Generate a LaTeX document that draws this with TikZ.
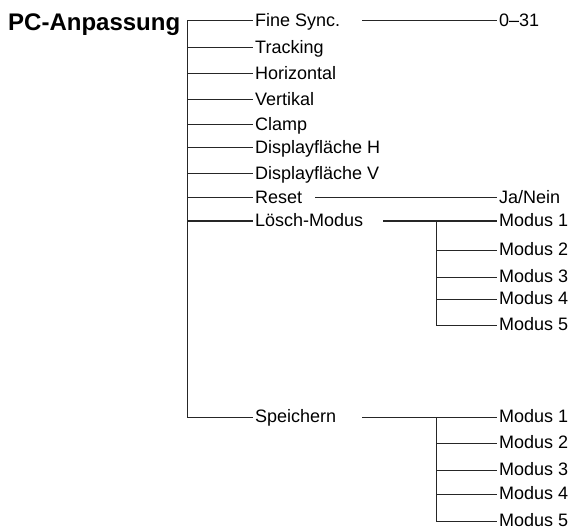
\documentclass[tikz,border=0pt]{standalone}
\usepackage{fontspec}
\setmainfont{Liberation Sans}
\tikzset{
  entry/.style={anchor=west, inner xsep=2pt, inner ysep=0pt, text height=12.9pt, text depth=1.9pt, font=\fontsize{18}{20}\selectfont},
  heading/.style={anchor=base west, inner sep=0pt, font=\bfseries\fontsize{24}{28}\selectfont},
  branch/.style={line width=1pt, black!85},
}
\begin{document}
\begin{tikzpicture}[x=1pt, y=-1pt]
\useasboundingbox (0,0) rectangle (572,529);
\node[heading] (title) at (8,30.5) {PC-Anpassung};
\coordinate (trunk) at (187,21);
% first level
\node[entry] (fine) at (253,21) {Fine Sync.};
\node[entry] (track) at (253,48) {Tracking};
\node[entry] (hor) at (253,74) {Horizontal};
\node[entry] (vert) at (253,100) {Vertikal};
\node[entry] (clamp) at (253,125) {Clamp};
\node[entry] (dispH) at (253,148) {Displayfläche H};
\node[entry] (dispV) at (253,174) {Displayfläche V};
\node[entry] (reset) at (253,198) {Reset};
\node[entry] (clear) at (253,221) {Lösch-Modus};
\node[entry] (save) at (253,417) {Speichern};
% second level
\node[entry] (sync) at (497,21) {0–31};
\node[entry] (yesno) at (497,198) {Ja/Nein};
\foreach \i/\y in {1/221,2/250,3/277,4/299,5/325}
  \node[entry] (clr\i) at (497,\y) {Modus \i};
\foreach \i/\y in {1/417,2/443,3/470,4/494,5/521}
  \node[entry] (sav\i) at (497,\y) {Modus \i};
% connectors
\draw[branch] (trunk) -- (trunk |- save.west);
\foreach \n in {fine,track,hor,vert,clamp,dispH,dispV,reset,clear,save}
  \draw[branch] (trunk |- \n.west) -- (\n.west);
\draw[branch] ([xshift=20pt]fine.east) -- (sync.west);
\draw[branch] ([xshift=11pt]reset.east) -- (yesno.west);
\draw[branch] ([xshift=18pt]clear.east) -- (clr1.west);
\draw[branch] ([xshift=24pt]save.east) -- (sav1.west);
\coordinate (subA) at (436,221);
\coordinate (subB) at (436,417);
\draw[branch] (subA) -- (subA |- clr5.west);
\draw[branch] (subB) -- (subB |- sav5.west);
\foreach \i in {2,...,5} {
  \draw[branch] (subA |- clr\i.west) -- (clr\i.west);
  \draw[branch] (subB |- sav\i.west) -- (sav\i.west);
}
\end{tikzpicture}
\end{document}
